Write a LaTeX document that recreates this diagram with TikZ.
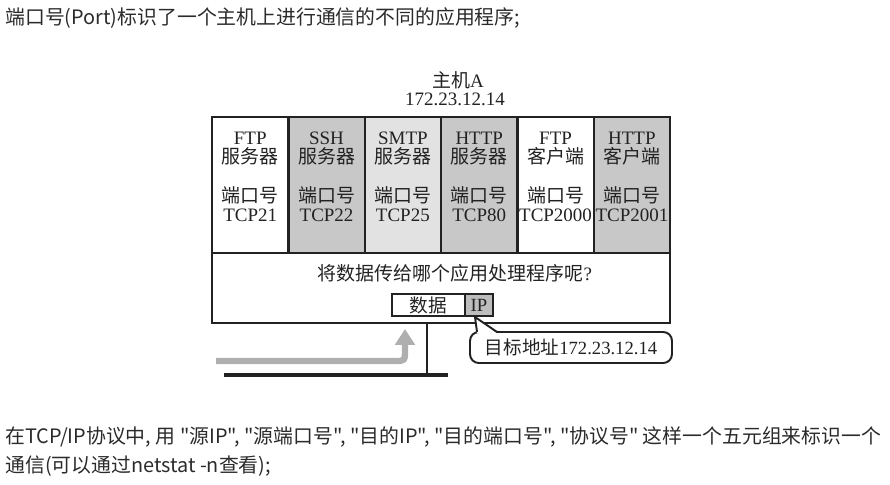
\documentclass[tikz,border=0pt]{standalone}
\usepackage{fontspec}
\setmainfont{Liberation Serif}
\newfontfamily\cjk{Noto Sans CJK SC}
\usetikzlibrary{positioning,calc,arrows.meta}
\definecolor{ink}{HTML}{222222}
\definecolor{prose}{HTML}{2B2B2B}
\definecolor{cellgray}{HTML}{C8C8C8}
\definecolor{celllight}{HTML}{E2E2E2}
\definecolor{ipgray}{HTML}{BDBDBD}
\definecolor{flowgray}{HTML}{AFAFAF}
\tikzset{
  hostbox/.style={draw=ink, line width=1.3pt, outer sep=0, inner sep=0, minimum width=9.16cm, minimum height=4.12cm},
  portcell/.style={draw=ink, line width=1.3pt, outer sep=0, inner sep=0, minimum width=1.527cm, minimum height=2.72cm},
  celltext/.style={align=center, inner sep=0, text=ink, font=\fontsize{10.8}{11}\selectfont},
  pktbox/.style={draw=ink, line width=1.1pt, outer sep=0, inner sep=0, minimum height=0.44cm, text=ink, font=\fontsize{10.6}{11}\selectfont},
  callbox/.style={draw=ink, line width=1.1pt, fill=white, rounded corners=5pt, outer sep=0, inner sep=0, minimum width=4.04cm, minimum height=0.62cm, text=ink, font=\fontsize{10.6}{11}\selectfont},
  prosetext/.style={anchor=west, inner sep=0, text=prose, font=\cjk\fontsize{11.3}{13}\selectfont},
}
\begin{document}
\begin{tikzpicture}[x=0.02cm, y=-0.02cm]
\useasboundingbox (0,0) rectangle (890,484);
%%% Start prose above
        \node[prosetext] (intro) at (5,18) {端口号(Port)标识了一个主机上进行通信的不同的应用程序;};
%%% End prose above
%%% Start host A
        \node[celltext] (hostname) at (458,80) {{\cjk 主机}A};
        \node[celltext] (hostaddr) at (455,99) {172.23.12.14};
        \node[hostbox] (host) at (441,220) {};
%%% End host A
%%% Start port cells
        \draw (host.north west) node[portcell, anchor=north west] (c1) {};
        \draw (c1.east) node[portcell, anchor=west, fill=cellgray] (c2) {};
        \draw (c2.east) node[portcell, anchor=west, fill=celllight] (c3) {};
        \draw (c3.east) node[portcell, anchor=west, fill=cellgray] (c4) {};
        \draw (c4.east) node[portcell, anchor=west] (c5) {};
        \draw (c5.east) node[portcell, anchor=west, fill=cellgray] (c6) {};
        \node[celltext, yshift=4.8pt] (t1) at (c1.center) {FTP\\{\cjk 服务器}\\[11pt]{\cjk 端口号}\\TCP21};
        \node[celltext, yshift=4.8pt] (t2) at (c2.center) {SSH\\{\cjk 服务器}\\[11pt]{\cjk 端口号}\\TCP22};
        \node[celltext, yshift=4.8pt] (t3) at (c3.center) {SMTP\\{\cjk 服务器}\\[11pt]{\cjk 端口号}\\TCP25};
        \node[celltext, yshift=4.8pt] (t4) at (c4.center) {HTTP\\{\cjk 服务器}\\[11pt]{\cjk 端口号}\\TCP80};
        \node[celltext, yshift=4.8pt] (t5) at (c5.center) {FTP\\{\cjk 客户端}\\[11pt]{\cjk 端口号}\\TCP2000};
        \node[celltext, yshift=4.8pt] (t6) at (c6.center) {HTTP\\{\cjk 客户端}\\[11pt]{\cjk 端口号}\\TCP2001};
%%% End port cells
%%% Start question and packet
        \node[celltext] (ask) at (455,273) {{\cjk 将数据传给哪个应用处理程序呢}?};
        \node[pktbox, minimum width=1.46cm] (data) at (428.5,305) {{\cjk 数据}};
        \draw (data.east) node[pktbox, anchor=west, fill=ipgray, minimum width=0.56cm] (ip) {IP};
%%% End question and packet
%%% Start network
        \coordinate (busL) at (224,375);
        \coordinate (busR) at (448,375);
        \coordinate (stub) at (427,375);
        \draw[ink, line width=1.9pt] (busL) -- (busR);
        \draw[ink, line width=1.5pt] (stub) -- (stub |- host.south);
        \coordinate (inflow) at (216,361);
        \coordinate (inbend) at (395,361);
        \coordinate (inup) at (405,329);
        \draw[flowgray, line width=3.6pt, -{Triangle[length=9pt, width=11pt]}] (inflow) -- (inbend) .. controls (405,361) .. (405,349) -- (inup);
%%% End network
%%% Start callout
        \node[callbox] (dst) at (571,347.5) {{\cjk 目标地址}172.23.12.14};
        \coordinate (tip) at ($(ip.south west)+(10,1)$);
        \fill[white] ($(dst.north west)+(7,1.2)$) -- (tip) -- ($(dst.north west)+(27,1.2)$) -- cycle;
        \draw[ink, line width=1.1pt, line join=miter] ($(dst.north west)+(7,0)$) -- (tip) -- ($(dst.north west)+(27,0)$);
%%% End callout
%%% Start prose below
        \node[prosetext] (fivetuple) at (5,437) {在TCP/IP协议中, 用 "源IP", "源端口号", "目的IP", "目的端口号", "协议号" 这样一个五元组来标识一个};
        \node[prosetext] (netstat) at (5,466) {通信(可以通过netstat -n查看);};
%%% End prose below
\end{tikzpicture}
\end{document}
